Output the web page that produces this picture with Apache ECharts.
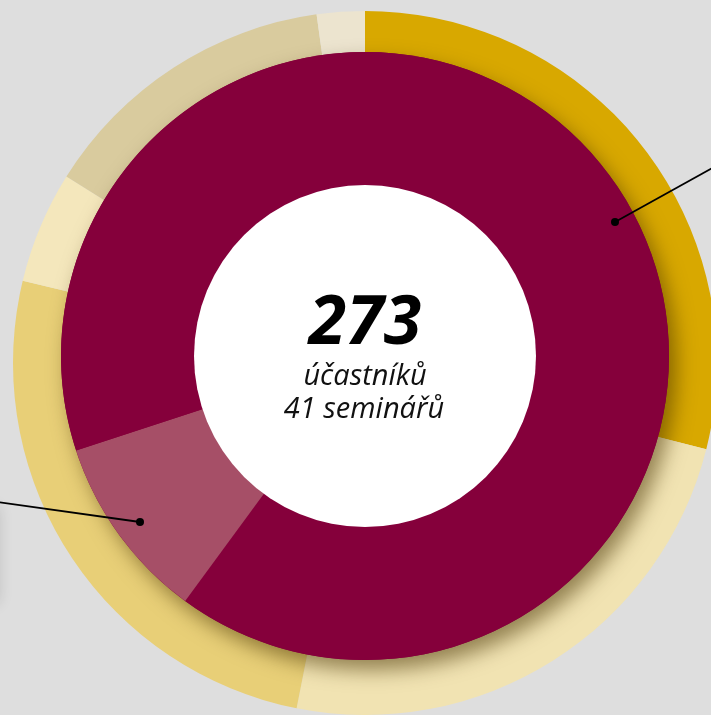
<!DOCTYPE html>
<html>
<head>
<meta charset="utf-8">
<title>273 účastníků</title>
<script src="https://cdn.jsdelivr.net/npm/echarts@6/dist/echarts.min.js"></script>
<style>
  html, body { margin: 0; padding: 0; background: #dedede; }
  #chart { width: 711px; height: 715px; }
</style>
</head>
<body>
<div id="chart"></div>
<script>
// outer ring - participants split (sums to 273)
var outerValues = [79, 66, 70, 14, 38, 6];
var outerColors = ['#d8a800', '#f1e3b2', '#e8cf77', '#f4e7bc', '#d9cb9e', '#ece4cf'];
// inner ring
var innerValues = [164, 27, 82];
var innerColors = ['#85003b', '#a64f67', '#85003b'];
// centre texts
var totalLabel = '273';
var unitLabel = 'účastníků';
var seminarLabel = '41 seminářů';

var total = innerValues.reduce(function (a, b) { return a + b; }, 0);

var toData = function (vals, cols) {
  return vals.map(function (v, i) {
    return { value: v, itemStyle: { color: cols[i] } };
  });
};

var chart = echarts.init(document.getElementById('chart'));
var pieBase = {
  type: 'pie',
  startAngle: 90,
  clockwise: true,
  silent: true,
  animation: false,
  label: { show: false },
  labelLine: { show: false },
  emphasis: { disabled: true }
};

chart.setOption({
  backgroundColor: '#dedede',
  series: [
    Object.assign({}, pieBase, {
      z: 1,
      center: [365, 363],
      radius: [280, 352],
      data: toData(outerValues, outerColors)
    }),
    // shadow under the inner disc
    Object.assign({}, pieBase, {
      z: 2,
      center: [365, 356],
      radius: [0, 304],
      data: [{ value: total, itemStyle: {
        color: '#85003b',
        shadowBlur: 20,
        shadowOffsetX: 7,
        shadowOffsetY: 10,
        shadowColor: 'rgba(70,50,0,0.55)'
      } }]
    }),
    Object.assign({}, pieBase, {
      z: 3,
      center: [365, 356],
      radius: [0, 304],
      data: toData(innerValues, innerColors)
    }),
    Object.assign({}, pieBase, {
      z: 4,
      center: [365, 356],
      radius: [0, 171],
      data: [{ value: 1, itemStyle: { color: '#ffffff' } }]
    })
  ],
  graphic: [
    {
      type: 'rect', z: 0,
      shape: { x: -40, y: 505, width: 40, height: 100, r: 8 },
      style: { fill: '#d4d4d4', shadowBlur: 14, shadowColor: 'rgba(0,0,0,0.12)' }
    },
    {
      type: 'polyline', z: 10,
      shape: { points: [[615, 222], [725, 161]] },
      style: { stroke: '#000', lineWidth: 1.8 }
    },
    { type: 'circle', z: 10, shape: { cx: 615, cy: 222, r: 4 }, style: { fill: '#000' } },
    {
      type: 'polyline', z: 10,
      shape: { points: [[140, 522], [-10, 501]] },
      style: { stroke: '#000', lineWidth: 1.8 }
    },
    { type: 'circle', z: 10, shape: { cx: 140, cy: 522, r: 4 }, style: { fill: '#000' } },
    {
      type: 'text', z: 10, x: 365, y: 325,
      style: { text: totalLabel, fill: '#000', align: 'center', verticalAlign: 'middle',
        font: 'italic bold 68px "Open Sans"' }
    },
    {
      type: 'text', z: 10, x: 365, y: 377,
      style: { text: unitLabel, fill: '#111', align: 'center', verticalAlign: 'middle',
        font: 'italic 29px "Open Sans"' }
    },
    {
      type: 'text', z: 10, x: 364, y: 410,
      style: { text: seminarLabel, fill: '#111', align: 'center', verticalAlign: 'middle',
        font: 'italic 29px "Open Sans"' }
    }
  ]
});
</script>
</body>
</html>
